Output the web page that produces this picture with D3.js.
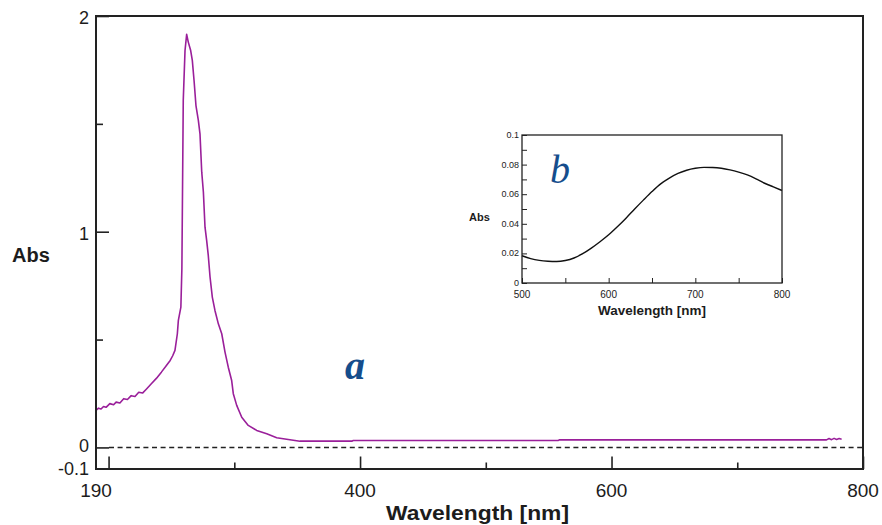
<!DOCTYPE html>
<html>
<head>
<meta charset="utf-8">
<script src="https://cdn.jsdelivr.net/npm/d3@7"></script>
<style>
    body { margin: 0; background: #fff; }
    text { font-family: "Liberation Sans", Arial, sans-serif; fill: #1c1c1c; }
</style>
</head>
<body>
<div id="chart"></div>
<script>

// ---- main spectrum (a) ----
var mainWavelength = [190, 192, 194, 196, 198, 201, 204, 206, 209, 212, 215, 218, 221, 224, 227, 230, 234, 238, 242, 246,
    249, 251, 252.8, 254.7, 255.5, 257.5, 258.3, 259.4, 260.8, 262.1, 263.4, 265.3, 266.6, 268, 269.5, 271.4, 272.7,
    274.1, 275.4, 276.7, 278, 279.3, 280.7, 282.5, 284.6, 287.3, 290, 292.6, 295.2, 297.9, 299.2, 301.9, 305.9, 311.1,
    317.8, 325.8, 333.7, 342.9, 352.2, 370, 393.4, 394.6, 450, 557.5, 558.5, 700, 771, 773, 775, 777, 779, 781, 783];
var mainAbs = [0.172, 0.182, 0.178, 0.19, 0.186, 0.203, 0.198, 0.21, 0.206, 0.226, 0.222, 0.24, 0.236, 0.256, 0.252, 0.27, 0.295, 0.32, 0.349, 0.38,
    0.403, 0.425, 0.45, 0.527, 0.589, 0.65, 0.828, 1.609, 1.84, 1.915, 1.879, 1.84, 1.794, 1.70, 1.585, 1.516, 1.454,
    1.276, 1.184, 1.021, 0.96, 0.89, 0.79, 0.697, 0.635, 0.573, 0.527, 0.442, 0.372, 0.31, 0.249, 0.195, 0.14, 0.102,
    0.079, 0.063, 0.045, 0.037, 0.029, 0.029, 0.029, 0.032, 0.032, 0.032, 0.035, 0.035, 0.035, 0.041, 0.036, 0.042, 0.037, 0.041, 0.038];

var mainXMajorTicks = [200, 400, 600, 800];
var mainXMinorTicks = [300, 500, 700];
var mainXLabels = [190, 400, 600, 800];
var mainYMajorTicks = [0, 1, 2];
var mainYMinorTicks = [0.5, 1.5];
var mainYLabels = [-0.1, 0, 1, 2];

// ---- inset spectrum (b) ----
var insetWavelength = [500, 510, 520, 530, 540, 550, 560, 570, 580, 590, 600, 610, 620, 630, 640, 650, 660, 670, 680,
    690, 700, 710, 720, 730, 740, 750, 760, 770, 780, 790, 800];
var insetAbs = [0.0184, 0.0165, 0.0153, 0.0147, 0.0145, 0.0152, 0.0169, 0.0198, 0.0236, 0.0279, 0.0326, 0.038, 0.0438,
    0.05, 0.056, 0.0618, 0.067, 0.0709, 0.074, 0.0762, 0.0775, 0.0781, 0.078, 0.0775, 0.0764, 0.0749, 0.073, 0.0704,
    0.0674, 0.065, 0.0625];

var insetXTicks = [500, 550, 600, 650, 700, 750, 800];
var insetXLabels = [500, 600, 700, 800];
var insetYTicks = [0, 0.01, 0.02, 0.03, 0.04, 0.05, 0.06, 0.07, 0.08, 0.09, 0.1];
var insetYLabels = [0, 0.02, 0.04, 0.06, 0.08, 0.1];


var width = 882, height = 525;

var svg = d3.select("#chart").append("svg")
    .attr("width", width)
    .attr("height", height);

//main plot area
var box = {left: 96, right: 863, top: 16, bottom: 469};

var xScale = d3.scaleLinear().domain([190, 800]).range([box.left, box.right]);
var yScale = d3.scaleLinear().domain([-0.1, 2]).range([box.bottom, box.top]);

// ticks point inward, labels drawn on their own
function addTicks(g, axis) {
    g.call(axis);
    g.select(".domain").remove();
    g.selectAll(".tick line").attr("stroke", "#222").attr("stroke-width", 1.6);
    g.selectAll(".tick text").remove();
}

svg.append("g").attr("transform", "translate(0," + box.bottom + ")")
    .call(addTicks, d3.axisBottom(xScale).tickValues(mainXMajorTicks).tickSize(-12.5));
svg.append("g").attr("transform", "translate(0," + box.bottom + ")")
    .call(addTicks, d3.axisBottom(xScale).tickValues(mainXMinorTicks).tickSize(-6.5));
svg.append("g").attr("transform", "translate(" + box.left + ",0)")
    .call(addTicks, d3.axisLeft(yScale).tickValues(mainYMajorTicks).tickSize(-13));
svg.append("g").attr("transform", "translate(" + box.left + ",0)")
    .call(addTicks, d3.axisLeft(yScale).tickValues(mainYMinorTicks).tickSize(-7));

//dashed zero line
svg.append("line")
    .attr("x1", xScale(190) + 13).attr("x2", xScale(800))
    .attr("y1", yScale(0)).attr("y2", yScale(0))
    .attr("stroke", "#222")
    .attr("stroke-width", 1.5)
    .attr("stroke-dasharray", "5,3.6");

var mainData = mainWavelength.map(function (w, i) { return {x: w, y: mainAbs[i]}; });

var line = d3.line()
    .x(function (d) { return xScale(d.x); })
    .y(function (d) { return yScale(d.y); });

svg.append("path")
    .datum(mainData)
    .attr("d", line)
    .attr("fill", "none")
    .attr("stroke", "#9a1f9a")
    .attr("stroke-width", 1.6)
    .attr("stroke-linejoin", "round");

//frame
svg.append("rect")
    .attr("x", box.left).attr("y", box.top)
    .attr("width", box.right - box.left)
    .attr("height", box.bottom - box.top)
    .attr("fill", "none")
    .attr("stroke", "#222")
    .attr("stroke-width", 2);

svg.selectAll(".xlab").data(mainXLabels).enter().append("text")
    .attr("class", "xlab")
    .attr("x", function (d) { return xScale(d); })
    .attr("y", 490)
    .attr("text-anchor", "middle")
    .attr("dominant-baseline", "central")
    .style("font-size", "19px")
    .text(function (d) { return d; });

// -0.1 and 0 sit close together, nudge them apart
svg.selectAll(".ylab").data(mainYLabels).enter().append("text")
    .attr("class", "ylab")
    .attr("x", 89)
    .attr("y", function (d) {
        if (d == -0.1) return 468.5;
        if (d == 0) return yScale(d) - 1;
        return yScale(d) + 2;
    })
    .attr("text-anchor", "end")
    .attr("dominant-baseline", "central")
    .style("font-size", "18px")
    .text(function (d) { return d; });

svg.append("text")
    .attr("x", 12).attr("y", 262)
    .style("font-size", "20px").style("font-weight", "bold")
    .text("Abs");

svg.append("text")
    .attr("x", 386).attr("y", 520)
    .attr("textLength", 183).attr("lengthAdjust", "spacingAndGlyphs")
    .style("font-size", "21px").style("font-weight", "bold")
    .text("Wavelength [nm]");

svg.append("text")
    .attr("x", 345).attr("y", 379)
    .style("font-family", "'Liberation Serif', serif")
    .style("font-style", "italic").style("font-weight", "bold")
    .style("font-size", "40px")
    .style("fill", "#154d8c")
    .text("a");

// ---- inset ----
var ibox = {left: 522, right: 782, top: 135, bottom: 283};
var xInset = d3.scaleLinear().domain([500, 800]).range([ibox.left, ibox.right]);
var yInset = d3.scaleLinear().domain([0, 0.1]).range([ibox.bottom, ibox.top]);

var inset = svg.append("g");

inset.append("rect")
    .attr("x", ibox.left).attr("y", ibox.top)
    .attr("width", ibox.right - ibox.left)
    .attr("height", ibox.bottom - ibox.top)
    .attr("fill", "#fff");

inset.append("g").attr("transform", "translate(0," + ibox.bottom + ")")
    .call(addTicks, d3.axisBottom(xInset).tickValues(insetXTicks).tickSize(-5));
inset.append("g").attr("transform", "translate(" + ibox.left + ",0)")
    .call(addTicks, d3.axisLeft(yInset).tickValues(insetYTicks).tickSize(-5));
inset.selectAll(".tick line").attr("stroke-width", 1);

var insetData = insetWavelength.map(function (w, i) { return {x: w, y: insetAbs[i]}; });

inset.append("path")
    .datum(insetData)
    .attr("d", d3.line().curve(d3.curveMonotoneX)
        .x(function (d) { return xInset(d.x); })
        .y(function (d) { return yInset(d.y); }))
    .attr("fill", "none")
    .attr("stroke", "#111")
    .attr("stroke-width", 1.4);

inset.append("rect")
    .attr("x", ibox.left).attr("y", ibox.top)
    .attr("width", ibox.right - ibox.left)
    .attr("height", ibox.bottom - ibox.top)
    .attr("fill", "none")
    .attr("stroke", "#222")
    .attr("stroke-width", 1.3);

inset.selectAll(".ixlab").data(insetXLabels).enter().append("text")
    .attr("class", "ixlab")
    .attr("x", function (d) { return xInset(d); })
    .attr("y", 294)
    .attr("text-anchor", "middle")
    .attr("dominant-baseline", "central")
    .style("font-size", "10px")
    .text(function (d) { return d; });

inset.selectAll(".iylab").data(insetYLabels).enter().append("text")
    .attr("class", "iylab")
    .attr("x", 519)
    .attr("y", function (d) { return yInset(d); })
    .attr("text-anchor", "end")
    .attr("dominant-baseline", "central")
    .style("font-size", "9px")
    .text(function (d) { return d; });

inset.append("text")
    .attr("x", 469).attr("y", 221)
    .style("font-size", "11px").style("font-weight", "bold")
    .text("Abs");

inset.append("text")
    .attr("x", 598).attr("y", 315)
    .attr("textLength", 108).attr("lengthAdjust", "spacingAndGlyphs")
    .style("font-size", "12px").style("font-weight", "bold")
    .text("Wavelength [nm]");

inset.append("text")
    .attr("x", 550).attr("y", 183)
    .style("font-family", "'Liberation Serif', serif")
    .style("font-style", "italic")
    .style("font-size", "40px")
    .style("fill", "#154d8c")
    .text("b");

</script>
</body>
</html>
